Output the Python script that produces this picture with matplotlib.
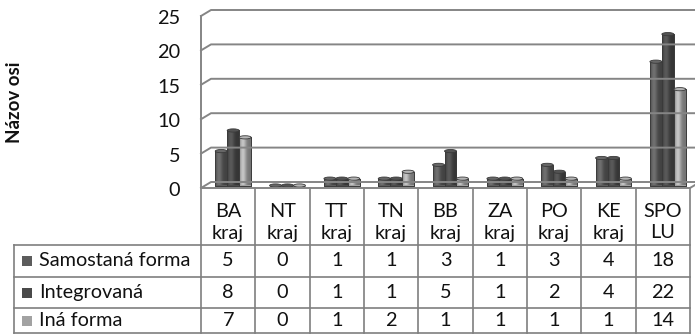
import numpy as np
import matplotlib
matplotlib.use("Agg")
import matplotlib.pyplot as plt
from matplotlib.transforms import ScaledTranslation, IdentityTransform
from matplotlib.patches import Rectangle, Ellipse
from matplotlib.lines import Line2D
from matplotlib.colors import to_rgb

# ---- data -------------------------------------------------------------
regions_top = ["BA", "NT", "TT", "TN", "BB", "ZA", "PO", "KE", "SPO"]
regions_bottom = ["kraj", "kraj", "kraj", "kraj", "kraj", "kraj", "kraj", "kraj", "LU"]
series_names = ["Samostaná forma", "Integrovaná", "Iná forma"]
samostana = [5, 0, 1, 1, 3, 1, 3, 4, 18]
integrovana = [8, 0, 1, 1, 5, 1, 2, 4, 22]
ina = [7, 0, 1, 2, 1, 1, 1, 1, 14]
yticks = [0, 5, 10, 15, 20, 25]
axis_title = "Názov osi"

series = [samostana, integrovana, ina]
colors = ["#5c5c5c", "#4a4a4a", "#a2a2a2"]

# ---- figure -----------------------------------------------------------
W, H, DPI = 695, 334, 100
plt.rcParams['font.family'] = ['Lato', 'DejaVu Sans']
fig = plt.figure(figsize=(W / DPI, H / DPI), dpi=DPI)
fig.patch.set_facecolor("white")

# full-figure pixel canvas for the data table
pix = fig.add_axes([0, 0, 1, 1])
pix.set_xlim(0, W)
pix.set_ylim(H, 0)
pix.axis("off")

# plot area (front plane)
X0, X1 = 201, 690
Y0, Y25 = 188, 16
ax = fig.add_axes([X0 / W, 1 - Y0 / H, (X1 - X0) / W, (Y0 - Y25) / H])
ax.axis("off")
n = len(regions_top)
ax.set_xlim(0, n)
ax.set_ylim(0, 25)

DEPTH_X, DEPTH_Y = 10, 6


def shifted(dx, dy):
    return ax.transData + ScaledTranslation(dx / DPI, dy / DPI, fig.dpi_scale_trans)


def disp(x, v, dx=0, dy=0):
    px, py = ax.transData.transform((x, v))
    return px + dx, py + dy


grid_c = "#858585"
ident = IdentityTransform()

# back wall gridlines with the short diagonal on the side wall
for v in yticks:
    p1 = disp(0, v)
    p2 = disp(0, v, DEPTH_X, DEPTH_Y)
    p3 = disp(n, v, DEPTH_X + 20, DEPTH_Y)
    fig.add_artist(Line2D([p1[0], p2[0], p3[0]], [p1[1], p2[1], p3[1]],
                          transform=ident, color=grid_c, lw=1.4, zorder=1))

# side wall front edge
a, b = disp(0, 0), disp(0, 25)
fig.add_artist(Line2D([a[0], b[0]], [a[1], b[1]], transform=ident,
                      color=grid_c, lw=1.4, zorder=1))
# floor front edge and right diagonal
a, b, c = disp(0, 0), disp(n, 0), disp(n, 0, DEPTH_X, DEPTH_Y)
fig.add_artist(Line2D([a[0], b[0], c[0]], [a[1], b[1], c[1]], transform=ident,
                      color=grid_c, lw=1.4, zorder=1))

# ---- cylinders ---------------------------------------------------------
bw = 0.22
bar_tr = shifted(5, 2.5)
cap_h = 3.2 / ((Y0 - Y25) / 25)
t = np.linspace(0, 1, 64)
shade = 0.72 + 0.5 * np.exp(-((t - 0.33) / 0.28) ** 2)

for i, (vals, col) in enumerate(zip(series, colors)):
    base = np.array(to_rgb(col))
    xs = np.arange(n) + 0.5 + (i - 1) * bw
    bars = ax.bar(xs, vals, width=bw, color=col, edgecolor="#3a3a3a",
                  linewidth=0.6, transform=bar_tr, zorder=3)
    for rect, x, v in zip(bars, xs, vals):
        if v > 0:
            img = np.clip(base[None, None, :] * shade[None, :, None], 0, 1)
            im = ax.imshow(img, extent=[x - bw / 2, x + bw / 2, 0, v],
                           aspect="auto", transform=bar_tr, zorder=3.1,
                           interpolation="bilinear")
            im.set_clip_path(rect)
            ax.add_patch(Rectangle((x - bw / 2, 0), bw, v, fill=False,
                                   edgecolor="#3a3a3a", lw=0.6,
                                   transform=bar_tr, zorder=3.2))
        cap = Ellipse((x, v), bw, cap_h, facecolor=np.clip(base * 1.12, 0, 1),
                      edgecolor="#3a3a3a", lw=0.6, transform=bar_tr, zorder=3.3)
        ax.add_patch(cap)

ax.set_xlim(0, n)
ax.set_ylim(0, 25)

# value axis labels
for v in yticks:
    ax.text(0, v, str(v), transform=shifted(-21, -2.5), ha="right",
            va="center", fontsize=14.3, color="#111111")

fig.text(15 / W, 1 - 102 / H, axis_title, rotation=90, ha="center",
         va="center", fontsize=13.5, fontweight="bold", color="#111111")

# ---- data table --------------------------------------------------------
line_c = "#7f7f7f"
cw = (X1 - X0) / n
col_edges = [X0 + k * cw for k in range(n + 1)]
TAB_TOP, HEAD_BOT = 188, 245
row_edges = [245, 277, 308, 333]
LEFT = 14

for xe in col_edges:
    pix.plot([xe, xe], [TAB_TOP, row_edges[-1]], color=line_c, lw=1.2)
pix.plot([LEFT, LEFT], [row_edges[0], row_edges[-1]], color=line_c, lw=1.2)
for ye in row_edges:
    pix.plot([LEFT, X1], [ye, ye], color=line_c, lw=1.2)

for k in range(n):
    cx = (col_edges[k] + col_edges[k + 1]) / 2
    pix.text(cx, 211.5, regions_top[k], ha="center", va="center",
             fontsize=14.3, color="#111111")
    pix.text(cx, 233, regions_bottom[k], ha="center", va="center",
             fontsize=14.3, color="#111111")

for r, (name, vals, col) in enumerate(zip(series_names, series, colors)):
    cy = (row_edges[r] + row_edges[r + 1]) / 2
    pix.add_patch(Rectangle((22, cy - 5), 10, 10, facecolor=col,
                            edgecolor="none"))
    pix.text(39, cy, name, ha="left", va="center", fontsize=14.3,
             color="#111111")
    for k in range(n):
        cx = (col_edges[k] + col_edges[k + 1]) / 2
        pix.text(cx, cy, str(vals[k]), ha="center", va="center",
                 fontsize=14.3, color="#111111")

fig.savefig("out.png", dpi=DPI, facecolor="white")
